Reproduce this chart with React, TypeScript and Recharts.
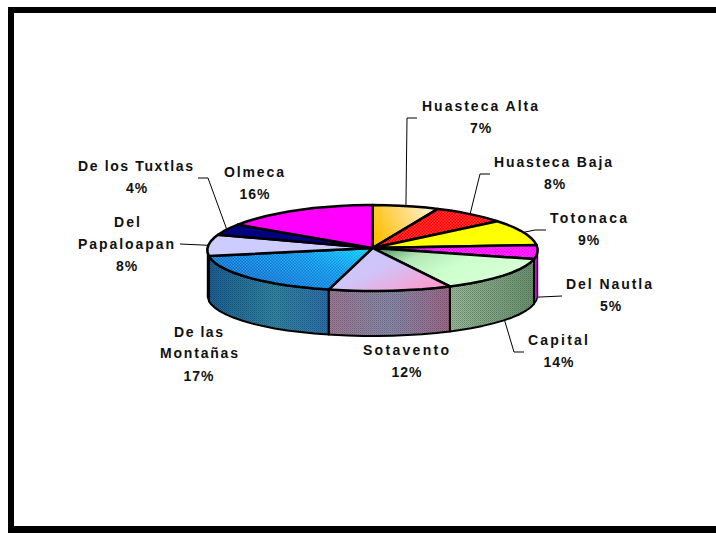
import React from "react";
import { PieChart, Pie } from "recharts";

const regions = [
  "Huasteca Alta",
  "Huasteca Baja",
  "Totonaca",
  "Del Nautla",
  "Capital",
  "Sotavento",
  "De las Montañas",
  "Del Papaloapan",
  "De los Tuxtlas",
  "Olmeca",
];
const shares = [7, 8, 9, 5, 14, 12, 17, 8, 4, 16];

// name broken over lines the way the labels wrap
const nameLines = [
  ["Huasteca Alta"],
  ["Huasteca Baja"],
  ["Totonaca"],
  ["Del Nautla"],
  ["Capital"],
  ["Sotavento"],
  ["De las", "Montañas"],
  ["Del", "Papaloapan"],
  ["De los Tuxtlas"],
  ["Olmeca"],
];

const tableData = regions.map((region, i) => ({ region, share: shares[i] }));

const CX = 372.5;
const CY = 248;
const RADIUS = 165;
const SQUASH = 43 / 165; // tilt of the disc
const DEPTH = 45;
const ARC_STEP = 5;
const PERSPECTIVE = 0.05; // near side of the disc is a bit wider than the far side

const topFills = [
  "url(#topAlta)",
  "#ff0000",
  "#ffff00",
  "url(#topNautla)",
  "url(#topCapital)",
  "url(#topSotavento)",
  "url(#topMontanas)",
  "#ccccff",
  "#000080",
  "#ff00ff",
];
const topDither = [false, true, false, true, false, false, true, false, false, false];
const wallFills = [
  "#000",
  "#000",
  "#000",
  "#e000f0",
  "url(#wallCapital)",
  "url(#wallSotavento)",
  "url(#wallMontanas)",
  "#101030",
  "#000",
  "#000",
];
const wallDither = [false, false, false, false, true, true, true, false, false, false];

// [x start, x end, baseline] for each name line
const namePlacement = [
  [[422, 538, 111]],
  [[494, 612, 167]],
  [[550, 627, 223]],
  [[566, 652, 289]],
  [[528, 588, 345]],
  [[363, 449, 355]],
  [[174, 223, 337], [160, 238, 358]],
  [[114, 140, 227], [78, 174, 249]],
  [[78, 193, 171]],
  [[224, 284, 177]],
];
// [center x, baseline] of each percentage
const pctPlacement = [
  [481, 133],
  [555, 189],
  [589, 245],
  [611, 311],
  [559, 367],
  [407, 377],
  [199, 381],
  [127, 271],
  [137, 193],
  [255, 199],
];
// leader elbows, walking out from the disc; null = label has no leader
const leaderElbows: (number[][] | null)[] = [
  [[407, 118], [417, 118]],
  [[480, 174], [490, 174]],
  [[535, 230], [546, 230]],
  [[562, 296]],
  [[514, 352], [524, 352]],
  null,
  null,
  [[180, 244]],
  [[208, 178], [198, 178]],
  null,
];
// these two leaders start from the bottom rim
const leaderFromRim = [false, false, false, true, true, false, false, false, false, false];

// small rim correction, [sweep clockwise from 12 o'clock, degrees]
const rimDrift = [
  [0, 0],
  [25, -0.6],
  [54, -2.6],
  [86, -0.4],
  [104, 0.6],
  [155, -1.5],
  [198, -3.3],
  [259, 0],
  [288, 0],
  [302, 0.6],
  [360, 0],
];

const projectAngle = (deg: number) => {
  const sweep = ((90 - deg) % 360 + 360) % 360;
  let k = 0;
  while (k < rimDrift.length - 2 && rimDrift[k + 1][0] < sweep) k++;
  const [s0, d0] = rimDrift[k];
  const [s1, d1] = rimDrift[k + 1];
  return deg - (d0 + ((d1 - d0) * (sweep - s0)) / (s1 - s0));
};

const rimPoint = (cx: number, cy: number, r: number, deg: number) => {
  const a = (deg * Math.PI) / 180;
  const scale = 1 - PERSPECTIVE * Math.sin(a);
  return [cx + r * scale * Math.cos(a), cy - r * SQUASH * Math.sin(a)];
};

const arcPoints = (cx: number, cy: number, r: number, from: number, to: number) => {
  const pts = [];
  for (let a = from; a > to; a -= ARC_STEP) pts.push(rimPoint(cx, cy, r, a));
  pts.push(rimPoint(cx, cy, r, to));
  return pts;
};

const toPath = (pts: number[][]) =>
  "M" + pts.map((p) => `${p[0].toFixed(1)} ${p[1].toFixed(1)}`).join("L") + "Z";

const TopSlice = (props: any) => {
  const { cx, cy, outerRadius, startAngle, endAngle } = props;
  const i = regions.indexOf(props.region ?? props.payload?.region);
  const d = toPath([
    [cx, cy],
    ...arcPoints(cx, cy, outerRadius, projectAngle(startAngle), projectAngle(endAngle)),
  ]);
  return (
    <g>
      <path d={d} fill={topFills[i]} />
      {topDither[i] && <path d={d} fill="url(#dither)" />}
      <path d={d} fill="none" stroke="#000" strokeWidth={2.5} strokeLinejoin="round" />
    </g>
  );
};

// side of the disc, only the part of a slice that faces the viewer
const WallSlice = (props: any) => {
  const { cx, cy, outerRadius, startAngle, endAngle } = props;
  const i = regions.indexOf(props.region ?? props.payload?.region);
  const from = Math.min(projectAngle(startAngle), 0);
  const to = Math.max(projectAngle(endAngle), -180);
  if (from <= to) return null;
  const upper = arcPoints(cx, cy, outerRadius, from, to);
  const lower = arcPoints(cx, cy + DEPTH, outerRadius, from, to).reverse();
  const d = toPath([...upper, ...lower]);
  return (
    <g>
      <path d={d} fill={wallFills[i]} />
      {wallDither[i] && <path d={d} fill="url(#ditherDark)" />}
      <path d={d} fill="none" stroke="#000" strokeWidth={wallDither[i] ? 2 : 1.4} strokeLinejoin="round" />
    </g>
  );
};

const textStyle = {
  fontFamily: "'Liberation Sans', Arial, sans-serif",
  fontWeight: 700,
  fontSize: 14,
  fill: "#111",
};

const SliceLabel = (props: any) => {
  const { cx, cy, outerRadius, midAngle, index } = props;
  const elbows = leaderElbows[index];
  let leader = null;
  if (elbows) {
    const start = rimPoint(
      cx,
      cy + (leaderFromRim[index] ? DEPTH : 0),
      outerRadius,
      projectAngle(midAngle)
    );
    const pts = [start, ...elbows].map((p) => p.join(",")).join(" ");
    leader = <polyline points={pts} fill="none" stroke="#000" strokeWidth={1} />;
  }
  return (
    <g>
      {leader}
      {nameLines[index].map((line, k) => {
        const [x0, x1, y] = namePlacement[index][k];
        return (
          <text key={k} x={x0} y={y} textLength={x1 - x0} lengthAdjust="spacing" {...textStyle}>
            {line}
          </text>
        );
      })}
      <text
        x={pctPlacement[index][0]}
        y={pctPlacement[index][1]}
        textAnchor="middle"
        letterSpacing={1}
        {...textStyle}
      >
        {shares[index]}%
      </text>
    </g>
  );
};

const frameBar = (style: React.CSSProperties) => (
  <div style={{ position: "absolute", background: "#000", ...style }} />
);

export default function App() {
  return (
    <div style={{ position: "absolute", left: 0, top: 0, width: 716, height: 533, background: "#fff", overflow: "hidden" }}>
      {frameBar({ left: 8, top: 7, width: 708, height: 6 })}
      {frameBar({ left: 8, top: 7, width: 6, height: 526 })}
      {frameBar({ left: 8, top: 526, width: 708, height: 7 })}
      <div style={{ position: "absolute", left: 0, top: 0 }}>
        <PieChart width={716} height={533} margin={{ top: 0, right: 0, bottom: 0, left: 0 }}>
          <defs>
            <pattern id="dither" width={3} height={3} patternUnits="userSpaceOnUse">
              <rect width={1.5} height={1.5} fill="#fff" fillOpacity={0.22} />
              <rect x={1.5} y={1.5} width={1.5} height={1.5} fill="#fff" fillOpacity={0.22} />
            </pattern>
            <pattern id="ditherDark" width={2} height={2} patternUnits="userSpaceOnUse">
              <rect width={1} height={1} fill="#000" fillOpacity={0.25} />
              <rect x={1} y={1} width={1} height={1} fill="#000" fillOpacity={0.12} />
            </pattern>
            <linearGradient id="topAlta" x1="0" y1="0.6" x2="1" y2="0.3">
              <stop offset="0" stopColor="#ffc000" />
              <stop offset="0.45" stopColor="#ffd566" />
              <stop offset="1" stopColor="#fff4d6" />
            </linearGradient>
            <linearGradient id="topNautla" x1="0" y1="0" x2="1" y2="0">
              <stop offset="0" stopColor="#700070" />
              <stop offset="0.4" stopColor="#ff00ff" />
              <stop offset="1" stopColor="#ff00ff" />
            </linearGradient>
            <linearGradient id="topCapital" x1="0" y1="0" x2="1" y2="0.5">
              <stop offset="0" stopColor="#3c8a50" />
              <stop offset="0.3" stopColor="#b4e8b8" />
              <stop offset="0.6" stopColor="#ccffcc" />
              <stop offset="1" stopColor="#d8ffd8" />
            </linearGradient>
            <linearGradient id="topSotavento" x1="0" y1="0" x2="1" y2="0.8">
              <stop offset="0" stopColor="#c8c8ff" />
              <stop offset="0.5" stopColor="#d0c4f8" />
              <stop offset="1" stopColor="#ff99cc" />
            </linearGradient>
            <linearGradient id="topMontanas" x1="0" y1="0.6" x2="1" y2="0">
              <stop offset="0" stopColor="#0066cc" />
              <stop offset="0.6" stopColor="#0090e8" />
              <stop offset="1" stopColor="#00ccff" />
            </linearGradient>
            <linearGradient id="wallCapital" x1="0" y1="0" x2="1" y2="0">
              <stop offset="0" stopColor="#96ba96" />
              <stop offset="1" stopColor="#6a9470" />
            </linearGradient>
            <linearGradient id="wallSotavento" x1="0" y1="0" x2="1" y2="0">
              <stop offset="0" stopColor="#a07a96" />
              <stop offset="0.5" stopColor="#8a8aac" />
              <stop offset="1" stopColor="#a06a8c" />
            </linearGradient>
            <linearGradient id="wallMontanas" x1="0" y1="0" x2="1" y2="0">
              <stop offset="0" stopColor="#1a6096" />
              <stop offset="0.55" stopColor="#2f86a6" />
              <stop offset="1" stopColor="#2a70b0" />
            </linearGradient>
          </defs>
          <Pie
            data={tableData}
            dataKey="share"
            nameKey="region"
            cx={CX}
            cy={CY}
            outerRadius={RADIUS}
            startAngle={90}
            endAngle={-270}
            paddingAngle={0}
            stroke="none"
            label={false}
            labelLine={false}
            shape={WallSlice}
            isAnimationActive={false}
          />
          <Pie
            data={tableData}
            dataKey="share"
            nameKey="region"
            cx={CX}
            cy={CY}
            outerRadius={RADIUS}
            startAngle={90}
            endAngle={-270}
            paddingAngle={0}
            stroke="none"
            label={SliceLabel}
            labelLine={false}
            shape={TopSlice}
            isAnimationActive={false}
          />
        </PieChart>
      </div>
    </div>
  );
}
